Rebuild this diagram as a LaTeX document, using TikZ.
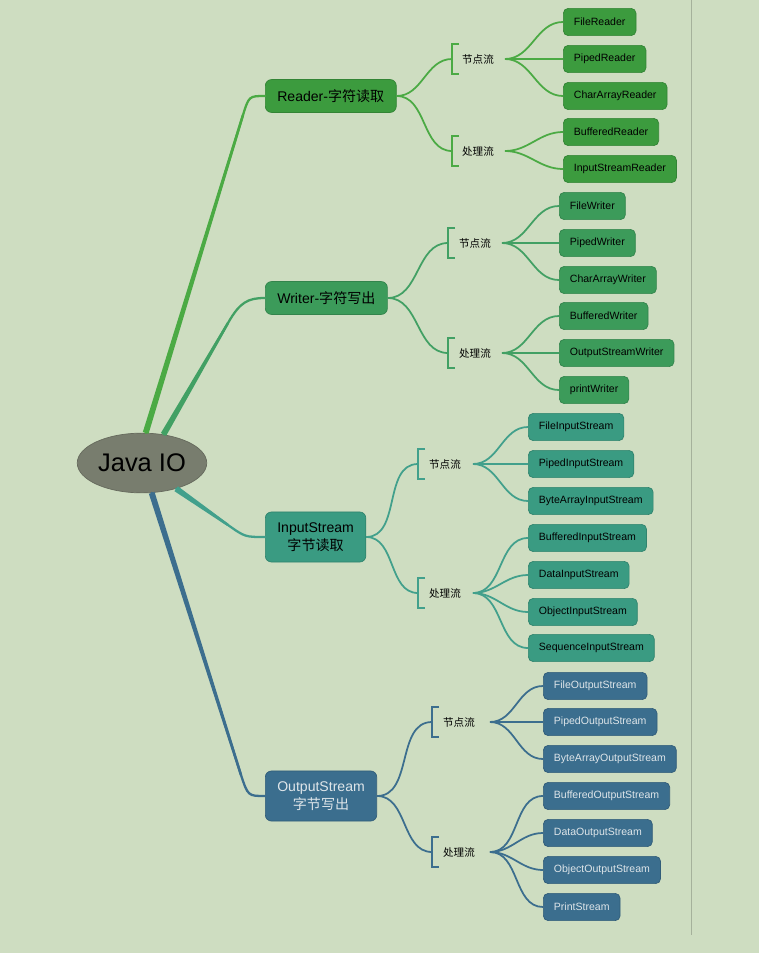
\documentclass[tikz,border=0pt]{standalone}
\usepackage{fontspec}
\setmainfont{Liberation Sans}
\newfontfamily\cjk{Noto Sans CJK SC}
\usetikzlibrary{shapes.geometric,calc}
\definecolor{bgc}{RGB}{206,221,193}
\definecolor{iocol}{RGB}{120,125,110}
\definecolor{rcol}{RGB}{60,155,62}
\definecolor{wcol}{RGB}{60,155,90}
\definecolor{icol}{RGB}{58,155,130}
\definecolor{ocol}{RGB}{59,110,142}
\definecolor{rline}{RGB}{75,170,68}
\definecolor{wline}{RGB}{66,160,100}
\definecolor{iline}{RGB}{66,160,140}
\definecolor{oline}{RGB}{60,110,142}
\definecolor{otext}{RGB}{222,229,233}

\begin{document}
\begin{tikzpicture}[x=0.02cm,y=-0.02cm]
	\tikzset{
		leaf/.style={draw=#1!85!black,fill=#1,rounded corners=2.8pt,anchor=west,minimum height=15.5pt,inner xsep=6pt,inner ysep=0pt,font=\fontsize{6}{7}\selectfont},
		mainbox/.style={draw=#1!85!black,fill=#1,rounded corners=3.5pt,anchor=west,minimum height=18.7pt,inner xsep=6.8pt,inner ysep=3pt,align=center,font=\fontsize{8}{10}\selectfont},
		twoline/.style={minimum height=28.5pt},
		sub/.style={inner sep=1pt,font=\cjk\fontsize{6}{7}\selectfont},
		link/.style={draw=#1,line width=1pt},
		twig/.style={draw=#1,line width=1.3pt,line cap=round}
	}
	\newcommand\zh[1]{{\cjk #1}}
	\newcommand\trunk[3]{\fill[#1] ($(#2)!1.7pt!90:(#3)$) -- ($(#3)!0.7pt!-90:(#2)$) -- ($(#3)!0.7pt!90:(#2)$) -- ($(#2)!1.7pt!-90:(#3)$) -- cycle;}

	\fill[bgc] (0,0) rectangle (759,953);
	\useasboundingbox (0,0) rectangle (759,953);
	\draw[black!20!bgc,line width=0.5pt] (691,0) -- (691,935);

	\node[ellipse,fill=iocol,draw=iocol!85!black,inner sep=0pt,minimum width=73.7pt,minimum height=34pt,font=\fontsize{14.5}{17}\selectfont] (io) at (142,463) {Java IO};

	\node[mainbox=rcol] (rd) at (265,96) {Reader-\zh{字符读取}};
	\node[mainbox=wcol] (wr) at (265,298) {Writer-\zh{字符写出}};
	\node[mainbox=icol,twoline] (is) at (265,537) {InputStream\\\zh{字节读取}};
	\node[mainbox=ocol,twoline,text=otext] (os) at (265,796) {OutputStream\\\zh{字节写出}};

	\coordinate (rdbend) at (243,115);
	\coordinate (wrbend) at (228,323);
	\coordinate (isbend) at (228,525);
	\coordinate (osbend) at (241,775);
	\trunk{rline}{io.83}{rdbend}
	\draw[twig=rline] (io.83) -- (rdbend) .. controls (249,96) .. (rd.west);
	\trunk{wline}{io.53}{wrbend}
	\draw[twig=wline] (io.53) -- (wrbend) .. controls (240,302) and (248,298) .. (wr.west);
	\trunk{iline}{io.-37}{isbend}
	\draw[twig=iline] (io.-37) -- (isbend) .. controls (245,537) .. (is.west);
	\trunk{oline}{io.-72}{osbend}
	\draw[twig=oline] (io.-72) -- (osbend) .. controls (248,796) .. (os.west);

	% Reader
	\coordinate (rdA) at (452,59);
	\coordinate (rdB) at (452,151);
	\node[sub] (rdAt) at (478,59) {节点流};
	\node[sub] (rdBt) at (478,151) {处理流};
	\coordinate (rdAf) at (505,59);
	\coordinate (rdBf) at (505,151);
	\foreach \c in {rdA,rdB} {
		\draw[link=rline] (rd.east) to[out=0,in=180] (\c);
		\draw[link=rline] (\c) ++(7,-15) -- ++(-7,0) -- ++(0,30) -- ++(7,0);
	}
	\foreach \n/\y/\t in {rd1/22/FileReader,rd2/59/PipedReader,rd3/96/CharArrayReader} {
		\node[leaf=rcol] (\n) at (563,\y) {\t};
		\draw[link=rline] (rdAf) to[out=0,in=180] (\n.west);
	}
	\foreach \n/\y/\t in {rd4/132/BufferedReader,rd5/169/InputStreamReader} {
		\node[leaf=rcol] (\n) at (563,\y) {\t};
		\draw[link=rline] (rdBf) to[out=0,in=180] (\n.west);
	}

	% Writer
	\coordinate (wrA) at (448,243);
	\coordinate (wrB) at (448,353);
	\node[sub] (wrAt) at (475,243) {节点流};
	\node[sub] (wrBt) at (475,353) {处理流};
	\coordinate (wrAf) at (502,243);
	\coordinate (wrBf) at (502,353);
	\foreach \c in {wrA,wrB} {
		\draw[link=wline] (wr.east) to[out=0,in=180] (\c);
		\draw[link=wline] (\c) ++(7,-15) -- ++(-7,0) -- ++(0,30) -- ++(7,0);
	}
	\foreach \n/\y/\t in {wr1/206/FileWriter,wr2/243/PipedWriter,wr3/280/CharArrayWriter} {
		\node[leaf=wcol] (\n) at (559,\y) {\t};
		\draw[link=wline] (wrAf) to[out=0,in=180] (\n.west);
	}
	\foreach \n/\y/\t in {wr4/316/BufferedWriter,wr5/353/OutputStreamWriter,wr6/390/printWriter} {
		\node[leaf=wcol] (\n) at (559,\y) {\t};
		\draw[link=wline] (wrBf) to[out=0,in=180] (\n.west);
	}

	% InputStream
	\coordinate (isA) at (418,464);
	\coordinate (isB) at (418,593);
	\node[sub] (isAt) at (445,464) {节点流};
	\node[sub] (isBt) at (445,593) {处理流};
	\coordinate (isAf) at (473,464);
	\coordinate (isBf) at (473,593);
	\foreach \c in {isA,isB} {
		\draw[link=iline] (is.east) to[out=0,in=180] (\c);
		\draw[link=iline] (\c) ++(7,-15) -- ++(-7,0) -- ++(0,30) -- ++(7,0);
	}
	\foreach \n/\y/\t in {is1/427/FileInputStream,is2/464/PipedInputStream,is3/501/ByteArrayInputStream} {
		\node[leaf=icol] (\n) at (528,\y) {\t};
		\draw[link=iline] (isAf) to[out=0,in=180] (\n.west);
	}
	\foreach \n/\y/\t in {is4/538/BufferedInputStream,is5/575/DataInputStream,is6/612/ObjectInputStream,is7/648/SequenceInputStream} {
		\node[leaf=icol] (\n) at (528,\y) {\t};
		\draw[link=iline] (isBf) to[out=0,in=180] (\n.west);
	}

	% OutputStream
	\coordinate (osA) at (432,722);
	\coordinate (osB) at (432,852);
	\node[sub] (osAt) at (459,722) {节点流};
	\node[sub] (osBt) at (459,852) {处理流};
	\coordinate (osAf) at (490,722);
	\coordinate (osBf) at (490,852);
	\foreach \c in {osA,osB} {
		\draw[link=oline] (os.east) to[out=0,in=180] (\c);
		\draw[link=oline] (\c) ++(7,-15) -- ++(-7,0) -- ++(0,30) -- ++(7,0);
	}
	\foreach \n/\y/\t in {os1/686/FileOutputStream,os2/722/PipedOutputStream,os3/759/ByteArrayOutputStream} {
		\node[leaf=ocol,text=otext] (\n) at (543,\y) {\t};
		\draw[link=oline] (osAf) to[out=0,in=180] (\n.west);
	}
	\foreach \n/\y/\t in {os4/796/BufferedOutputStream,os5/833/DataOutputStream,os6/870/ObjectOutputStream,os7/907/PrintStream} {
		\node[leaf=ocol,text=otext] (\n) at (543,\y) {\t};
		\draw[link=oline] (osBf) to[out=0,in=180] (\n.west);
	}
\end{tikzpicture}
\end{document}
